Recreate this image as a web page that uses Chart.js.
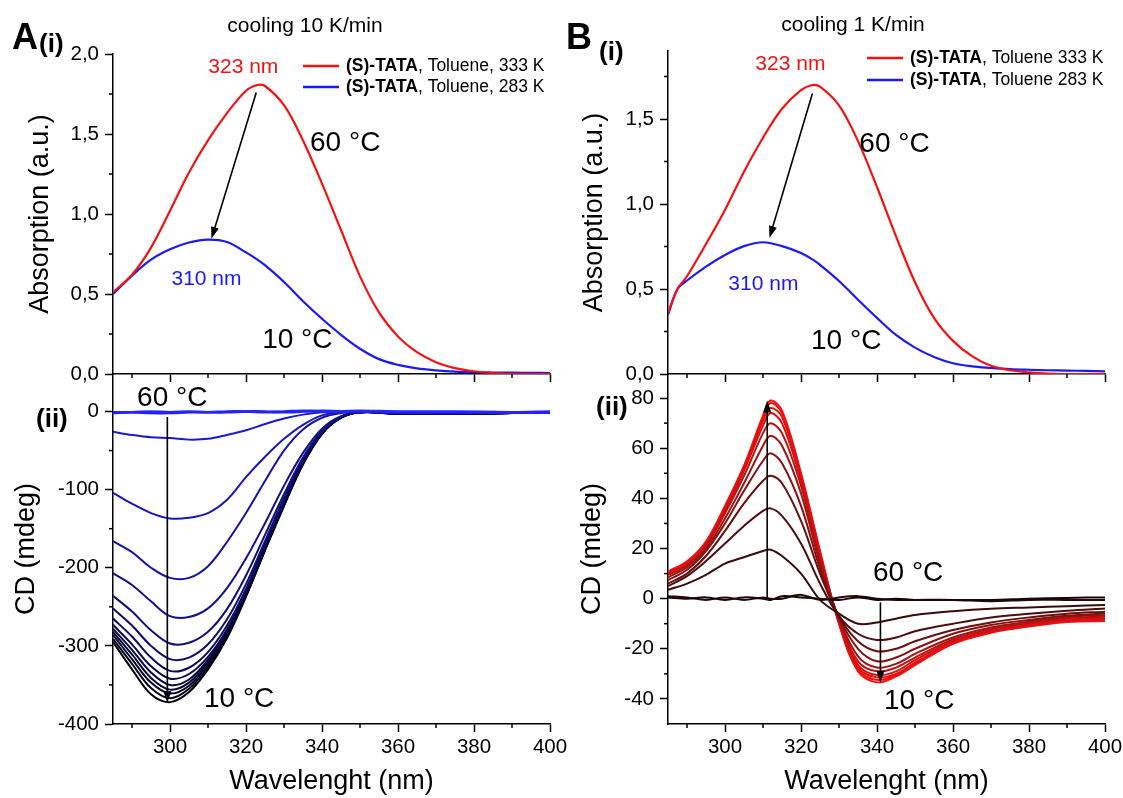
<!DOCTYPE html>
<html lang="en">
<head>
<meta charset="UTF-8">
<title>(S)-TATA absorption and CD on cooling</title>
<script src="https://cdn.jsdelivr.net/npm/chart.js"></script>
<style>
  body { margin: 0; width: 1123px; height: 798px; overflow: hidden; background: #fff; position: relative;
         font-family: Arial, "Liberation Sans", sans-serif; }
  canvas { position: absolute; left: 0; top: 0; }
  .lbl { position: absolute; color: #000; white-space: nowrap; line-height: 1; }
  .letter { font-weight: bold; font-size: 36px; }
  .sub { font-weight: bold; font-size: 26px; }
  .rate { font-size: 21px; transform: translateX(-50%); }
</style>
</head>
<body>
<canvas id="absA" width="1200" height="798"></canvas>
<canvas id="cdA" width="1200" height="798"></canvas>
<canvas id="absB" width="1200" height="798"></canvas>
<canvas id="cdB" width="1200" height="798"></canvas>

<div class="lbl letter" style="left:12px; top:19px;">A</div>
<div class="lbl sub" style="left:39px; top:30px;">(i)</div>
<div class="lbl sub" style="left:36px; top:405px;">(ii)</div>
<div class="lbl rate" style="left:305px; top:14px;">cooling 10 K/min</div>
<div class="lbl letter" style="left:566px; top:19px;">B</div>
<div class="lbl sub" style="left:599px; top:38px;">(i)</div>
<div class="lbl sub" style="left:596px; top:393px;">(ii)</div>
<div class="lbl rate" style="left:853px; top:13px;">cooling 1 K/min</div>

<script>
// ---- axis ticks ----
const xMajor = [300, 320, 340, 360, 380, 400];
const xMinor = [290, 310, 330, 350, 370, 390];
const absMajor = [0, 0.5, 1.0, 1.5, 2.0];
const absMinor = [0.25, 0.75, 1.25, 1.75];
const cdAMajor = [-400, -300, -200, -100, 0];
const cdAMinor = [-350, -250, -150, -50];
const cdBMajor = [-40, -20, 0, 20, 40, 60, 80];
const cdBMinor = [-30, -10, 10, 30, 50, 70];

// ---- A(i) absorption, cooling 10 K/min ----
const wlAbsA = [285, 290, 295, 300, 305, 310, 315, 320, 323, 325, 330, 335, 340, 345, 350, 355, 360, 365, 370, 375, 380, 385, 390, 395, 400];
const absA333 = [0.51, 0.62, 0.79, 1.02, 1.26, 1.46, 1.63, 1.77, 1.806, 1.80, 1.68, 1.46, 1.19, 0.90, 0.61, 0.385, 0.235, 0.137, 0.074, 0.037, 0.017, 0.006, 0.001, 0, 0];
const absA283 = [0.50, 0.615, 0.715, 0.78, 0.822, 0.84, 0.825, 0.76, 0.715, 0.68, 0.575, 0.455, 0.345, 0.245, 0.158, 0.093, 0.057, 0.035, 0.023, 0.015, 0.011, 0.009, 0.008, 0.007, 0.006];

// ---- B(i) absorption, cooling 1 K/min ----
const wlAbsB = [285, 287.5, 290, 295, 300, 305, 310, 315, 320, 323, 325, 330, 335, 340, 345, 350, 355, 360, 365, 370, 375, 380, 385, 390, 395, 400];
const absB333 = [0.36, 0.50, 0.575, 0.765, 0.965, 1.19, 1.39, 1.56, 1.67, 1.70, 1.69, 1.58, 1.37, 1.10, 0.81, 0.54, 0.33, 0.195, 0.105, 0.048, 0.022, 0.009, 0.002, 0, 0, 0];
const absB283 = [0.35, 0.50, 0.55, 0.632, 0.70, 0.752, 0.775, 0.752, 0.712, 0.674, 0.642, 0.547, 0.437, 0.33, 0.23, 0.155, 0.10, 0.063, 0.045, 0.036, 0.029, 0.025, 0.022, 0.020, 0.018, 0.016];

// ---- A(ii) CD, 60 °C -> 10 °C ----
const wlCdA = [285, 290, 295, 300, 305, 310, 315, 320, 325, 330, 335, 340, 345, 350, 360, 375, 390, 400];
const cdA01 = [-1, -1, 0, -1, 0, -1, 0, 0, -1, 0, 1, 0, 0, 1, 0, 0, -1, -1];
const cdA02 = [-2, -1, -2, -2, -1, -1, -1, 0, 0, -1, 0, 1, 0, 0, -1, -1, -1, 0];
const cdA03 = [-26, -30, -33, -34, -36, -35, -30, -24, -16, -9, -4, -1, 0, 0, -1, -1, -2, -2];
const cdA04 = [-104, -118, -130, -137, -136, -130, -113, -84, -58, -35, -17, -5, -1, 0, -1, -1, -2, -2];
const cdA05 = [-166, -180, -200, -213, -213, -198, -167, -130, -89, -50, -23, -8, -2, 0, -1, -2, -2, -2];
const cdA06 = [-207, -222, -243, -262, -263, -252, -226, -188, -143, -95, -53, -22, -6, -1, -1, -2, -2, -2];
const cdA07 = [-236, -256, -280, -297, -296, -282, -253, -210, -158, -106, -59, -25, -7, -1, -2, -2, -2, -2];
const cdA08 = [-252, -274, -300, -317, -315, -298, -266, -221, -166, -111, -62, -26, -7, -1, -2, -2, -2, -2];
const cdA09 = [-265, -288, -315, -332, -328, -308, -274, -227, -170, -114, -63, -26, -7, -1, -2, -3, -2, -2];
const cdA10 = [-273, -298, -326, -342, -336, -314, -279, -230, -172, -116, -64, -27, -7, -1, -2, -3, -2, -2];
const cdA11 = [-278, -305, -334, -350, -343, -318, -282, -232, -174, -117, -65, -27, -7, -1, -2, -3, -2, -2];
const cdA12 = [-282, -311, -341, -356, -347, -321, -284, -234, -175, -118, -66, -27, -8, -1, -3, -3, -2, -2];
const cdA13 = [-286, -317, -347, -361, -351, -324, -286, -235, -176, -119, -66, -28, -8, -1, -3, -3, -2, -2];
const cdA14 = [-291, -323, -354, -367, -355, -327, -288, -236, -177, -120, -67, -28, -8, -1, -3, -3, -2, -2];
const cdA15 = [-295, -330, -362, -372, -359, -330, -290, -237, -178, -121, -68, -29, -8, -1, -3, -3, -2, -2];

// ---- B(ii) CD, 60 °C -> 10 °C ----
const wlCdB = [285, 290, 295, 300, 305, 310, 312, 315, 320, 325, 330, 335, 340, 345, 350, 360, 370, 380, 390, 400];
const cdB01 = [0.5, 0, 0.5, -0.5, 0.5, 0, -0.5, 1, 0.5, 0, -0.5, 0.5, -0.5, 0, -0.5, -0.5, -0.5, 0, 0.3, 0.5];
const cdB02 = [1, 0.5, -0.5, 0.5, -0.5, 0.5, 0, 0, 1.5, -0.5, 0.5, 1, 0, -0.5, -0.5, -0.5, -1, -0.5, -0.5, -0.5];
const cdB03 = [3.5, 6, 9.5, 14, 16.5, 19, 19.5, 17, 10, -0.5, -6, -10, -9.5, -8, -6.5, -5, -4, -3.5, -3, -2.5];
const cdB04 = [5, 9, 15, 22, 29, 35, 36, 33, 22, 6, -7, -14, -16.5, -15.5, -13, -10, -7.5, -6, -4.8, -3.9];
const cdB05 = [6, 10, 17, 27, 38, 47, 49, 46, 31, 10, -7, -17, -21, -20, -17, -12.5, -9.5, -7.5, -6, -5.2];
const cdB06 = [7.4, 11.5, 19, 30, 43, 55, 58, 54, 37, 12, -7.5, -20, -25, -23.5, -20, -14, -10.5, -8.5, -6.8, -5.9];
const cdB07 = [8.5, 12.5, 20, 32, 46, 61, 65, 61, 42, 14, -8, -23, -27.5, -26, -22, -15.5, -11.5, -9.2, -7.3, -6.5];
const cdB08 = [9.4, 13.2, 21, 34, 49, 66, 70, 66, 45, 15.5, -8.5, -25, -29, -27.5, -23.5, -16.3, -12.2, -9.8, -7.8, -7.2];
const cdB09 = [10, 13.8, 21.5, 35, 51, 69, 74, 70, 47, 17, -9, -26.5, -30.5, -29, -24.5, -17, -12.8, -10.3, -8.3, -7.8];
const cdB10 = [10.4, 14.2, 22, 36, 52, 71, 76, 72.5, 48.5, 18, -9.5, -27.5, -31.4, -30, -25.5, -17.5, -13.2, -10.7, -8.8, -8.5];
const cdB11 = [10.6, 14.5, 22.4, 36.5, 52.5, 72, 78, 74, 49.5, 18.5, -9.8, -28.3, -32.4, -30.5, -26, -17.8, -13.4, -10.9, -9.1, -8.7];
const cdB12 = [10.8, 14.9, 22.8, 37, 53, 73, 79, 75, 50, 19, -10, -29, -33.4, -31, -26.5, -18, -13.6, -11.1, -9.3, -8.9];

const FONT = 'Arial, "Liberation Sans", sans-serif';
const RED = '#f41212';
const BLUE = '#1a1af2';
Chart.defaults.font.family = FONT;
Chart.defaults.color = '#000';

const cdAColors = ['#2424ff', '#1c1cf0', '#1a1ad2', '#1717bb', '#1414a4', '#11118e', '#0f0f7c', '#0d0d6c',
                   '#0b0b5d', '#09094f', '#070742', '#050535', '#040427', '#02021a', '#000000'];
const cdBColors = ['#1a0606', '#260808', '#3a0b0b', '#4e0d0d', '#690f0f', '#871111', '#a31212', '#bd1212',
                   '#d21111', '#e31010', '#f01010', '#ff1010'];

// tick marks between labels, arrows, in-plot notes and the legend
const extras = {
  id: 'extras',
  afterDraw(chart, args, o) {
    const { ctx, scales: { x, y } } = chart;
    ctx.save();
    ctx.strokeStyle = '#000';
    ctx.fillStyle = '#000';
    ctx.lineWidth = 1.5;
    (o.minorX || []).forEach(v => {
      const px = x.getPixelForValue(v);
      ctx.beginPath(); ctx.moveTo(px, x.top); ctx.lineTo(px, x.top + 4); ctx.stroke();
    });
    (o.minorY || []).forEach(v => {
      const py = y.getPixelForValue(v);
      ctx.beginPath(); ctx.moveTo(y.right, py); ctx.lineTo(y.right - 4, py); ctx.stroke();
    });
    (o.arrows || []).forEach(a => {
      const x0 = x.getPixelForValue(a.from[0]), y0 = y.getPixelForValue(a.from[1]);
      const x1 = x.getPixelForValue(a.to[0]), y1 = y.getPixelForValue(a.to[1]);
      const ang = Math.atan2(y1 - y0, x1 - x0);
      const c = Math.cos(ang), s = Math.sin(ang);
      ctx.lineWidth = 1.6;
      ctx.beginPath(); ctx.moveTo(x0, y0); ctx.lineTo(x1 - 8 * c, y1 - 8 * s); ctx.stroke();
      ctx.beginPath();
      ctx.moveTo(x1, y1);
      ctx.lineTo(x1 - 12 * c + 4 * s, y1 - 12 * s - 4 * c);
      ctx.lineTo(x1 - 12 * c - 4 * s, y1 - 12 * s + 4 * c);
      ctx.closePath(); ctx.fill();
    });
    ctx.textAlign = 'center';
    ctx.textBaseline = 'middle';
    (o.notes || []).forEach(n => {
      ctx.fillStyle = n.color || '#000';
      ctx.font = n.size + 'px ' + FONT;
      ctx.fillText(n.text, x.getPixelForValue(n.at[0]), y.getPixelForValue(n.at[1]));
    });
    if (o.legend) {
      const lg = o.legend;
      ctx.textAlign = 'left';
      chart.data.datasets.forEach((ds, i) => {
        const yy = lg.y + i * lg.dy;
        ctx.strokeStyle = ds.borderColor; ctx.lineWidth = 2.5;
        ctx.beginPath(); ctx.moveTo(lg.x, yy); ctx.lineTo(lg.x + 36, yy); ctx.stroke();
        const cut = ds.label.indexOf(',');
        const bold = ds.label.slice(0, cut), rest = ds.label.slice(cut);
        ctx.fillStyle = '#000';
        ctx.font = 'bold 17.5px ' + FONT;
        ctx.fillText(bold, lg.x + 43, yy);
        const w = ctx.measureText(bold).width;
        ctx.font = '17.5px ' + FONT;
        ctx.fillText(rest, lg.x + 43 + w, yy);
      });
    }
    ctx.restore();
  }
};

function line(label, xs, ys, color, width) {
  return {
    label, data: xs.map((v, i) => ({ x: v, y: ys[i] })),
    borderColor: color, borderWidth: width || 2, pointRadius: 0,
    tension: 0.35, fill: false
  };
}

const axisLine = { color: '#000', width: 1.5 };
const tickGrid = { drawOnChartArea: false, tickLength: 8, tickWidth: 1.5, tickColor: '#000' };

function xScale(withLabels, height) {
  return {
    type: 'linear', min: 285, max: 400,
    afterBuildTicks: s => { s.ticks = xMajor.map(v => ({ value: v })); },
    afterFit: s => { s.height = height; },
    ticks: { display: withLabels, font: { size: 20.5 }, padding: 3, callback: v => String(v) },
    grid: tickGrid, border: axisLine,
    title: { display: withLabels, text: 'Wavelenght (nm)', font: { size: 27 }, padding: 0 }
  };
}

function yScale(min, max, major, width, title, fmt) {
  return {
    type: 'linear', min, max,
    afterBuildTicks: s => { s.ticks = major.map(v => ({ value: v })); },
    afterFit: s => { s.width = width; },
    ticks: { font: { size: 20.5 }, padding: 6, callback: fmt },
    grid: tickGrid, border: axisLine,
    title: { display: true, text: title, font: { size: 27 }, padding: 0 }
  };
}

const comma = v => v.toFixed(1).replace('.', ',');
const plain = v => String(v);

function makeChart(id, datasets, padding, scales, extraOpts) {
  return new Chart(document.getElementById(id), {
    type: 'line',
    data: { datasets },
    options: {
      responsive: false, animation: false, devicePixelRatio: 1,
      layout: { padding },
      scales,
      plugins: { legend: { display: false }, tooltip: { enabled: false }, extras: extraOpts }
    },
    plugins: [extras]
  });
}

// A(i)
makeChart('absA', [
  line('(S)-TATA, Toluene, 333 K', wlAbsA, absA333, RED, 2.2),
  line('(S)-TATA, Toluene, 283 K', wlAbsA, absA283, BLUE, 2.2)
], { left: 24, right: 650, top: 54, bottom: 414 }, {
  x: xScale(false, 10),
  y: yScale(0, 2.0, absMajor, 89, 'Absorption (a.u.)', comma)
}, {
  minorX: xMinor, minorY: absMinor,
  legend: { x: 303, y: 66, dy: 21 },
  arrows: [{ from: [322.7, 1.76], to: [310.9, 0.845] }],
  notes: [
    { text: '323 nm', at: [319.3, 1.92], size: 21, color: RED },
    { text: '310 nm', at: [309.6, 0.59], size: 21, color: BLUE },
    { text: '60 °C', at: [346.1, 1.44], size: 28 },
    { text: '10 °C', at: [333.5, 0.21], size: 28 }
  ]
});

// A(ii)
const cdASeries = [cdA01, cdA02, cdA03, cdA04, cdA05, cdA06, cdA07, cdA08, cdA09, cdA10, cdA11, cdA12, cdA13, cdA14, cdA15];
makeChart('cdA', cdASeries.map((s, i) => line('CD ' + (i + 1), wlCdA, s, cdAColors[i], i < 2 ? 2.6 : 2)),
  { left: 10, right: 650, top: 374, bottom: 0 }, {
  x: xScale(true, 74),
  y: yScale(-400, 48, cdAMajor, 103, 'CD (mdeg)', plain)
}, {
  minorX: xMinor, minorY: cdAMinor,
  arrows: [{ from: [299.3, -7], to: [299.3, -373] }],
  notes: [
    { text: '60 °C', at: [300.6, 17.5], size: 28 },
    { text: '10 °C', at: [318.2, -368], size: 28 }
  ]
});

// B(i)
makeChart('absB', [
  line('(S)-TATA, Toluene 333 K', wlAbsB, absB333, RED, 2.2),
  line('(S)-TATA, Toluene 283 K', wlAbsB, absB283, BLUE, 2.2)
], { left: 578, right: 95, top: 51, bottom: 414 }, {
  x: xScale(false, 10),
  y: yScale(0, 1.9, absMajor.slice(0, 4), 90, 'Absorption (a.u.)', comma)
}, {
  minorX: xMinor, minorY: absMinor,
  legend: { x: 867, y: 58, dy: 22 },
  arrows: [{ from: [323.0, 1.65], to: [311.7, 0.80] }],
  notes: [
    { text: '323 nm', at: [317.2, 1.825], size: 21, color: RED },
    { text: '310 nm', at: [310.1, 0.526], size: 21, color: BLUE },
    { text: '60 °C', at: [344.6, 1.35], size: 28 },
    { text: '10 °C', at: [331.9, 0.19], size: 28 }
  ]
});

// B(ii)
const cdBSeries = [cdB01, cdB02, cdB03, cdB04, cdB05, cdB06, cdB07, cdB08, cdB09, cdB10, cdB11, cdB12];
makeChart('cdB', cdBSeries.map((s, i) => line('CD ' + (i + 1), wlCdB, s, cdBColors[i], 2)),
  { left: 576, right: 95, top: 374, bottom: 0 }, {
  x: xScale(true, 74),
  y: yScale(-50, 89.6, cdBMajor, 92, 'CD (mdeg)', plain)
}, {
  minorX: xMinor, minorY: cdBMinor,
  arrows: [
    { from: [311.1, 0], to: [311.1, 79] },
    { from: [340.9, -1.5], to: [340.9, -33.5] }
  ],
  notes: [
    { text: '60 °C', at: [348.2, 10.2], size: 28 },
    { text: '10 °C', at: [351.1, -40.8], size: 28 }
  ]
});
</script>
</body>
</html>
